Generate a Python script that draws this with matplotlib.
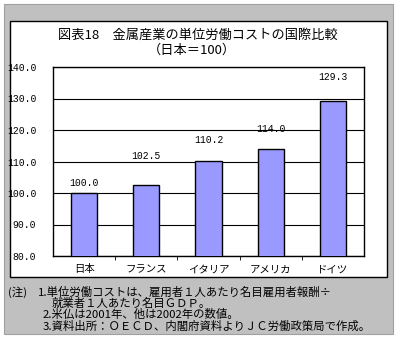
import matplotlib
matplotlib.use("Agg")
import matplotlib.pyplot as plt
from matplotlib.patches import Rectangle

plt.rcParams['font.family'] = ['Noto Sans CJK JP', 'DejaVu Sans']

# data
countries = ['日本', 'フランス', 'イタリア', 'アメリカ', 'ドイツ']
values = [100.0, 102.5, 110.2, 114.0, 129.3]
yticks = [80, 90, 100, 110, 120, 130, 140]

# label offsets above bar tops (in data units), as drawn in the original
label_offsets = [3.3, 9.1, 6.5, 6.2, 7.5]

fig = plt.figure(figsize=(4.0, 3.41), dpi=100)
W, H = 400, 341

def fx(x):
    return x / W

def fy(y):
    return 1 - y / H

# gray frame and white chart panel
fig.patches.append(Rectangle((fx(4), fy(334)), fx(389), 330 / H,
                             transform=fig.transFigure, facecolor='#c0c0c0',
                             edgecolor='#a0a0a0', lw=0.8, zorder=0))
fig.patches.append(Rectangle((fx(10), fy(277)), fx(377), 256 / H,
                             transform=fig.transFigure, facecolor='white',
                             edgecolor='black', lw=1.0, zorder=1))

ax = fig.add_axes([fx(53), fy(256), fx(311), 189 / H])
ax.set_zorder(5)
x = range(len(countries))
ax.bar(x, values, width=0.42, color='#9999ff', edgecolor='black', lw=1.0, zorder=3)
ax.set_ylim(80, 140)
ax.set_xlim(-0.5, len(countries) - 0.5)
ax.set_yticks(yticks)
ax.set_yticklabels([f'{v:.1f}' for v in yticks], fontsize=7, family='Liberation Mono')
ax.yaxis.grid(True, color='black', lw=0.8, zorder=0)
ax.set_axisbelow(True)
ax.tick_params(axis='y', length=0, pad=12)
ax.set_xticks(list(x))
ax.set_xticklabels(countries, fontsize=7.5)
ax.set_xticks([i + 0.5 for i in range(len(countries) - 1)], minor=True)
ax.tick_params(axis='x', which='major', length=0, pad=6)
ax.tick_params(axis='x', which='minor', length=3, direction='out', color='black')
for s in ax.spines.values():
    s.set_linewidth(1.0)

for i, v in enumerate(values):
    ax.text(i, v + label_offsets[i], f'{v:.1f}', ha='center', va='center',
            fontsize=7, family='Liberation Mono')

fig.text(fx(198), fy(35), '図表18\u3000金属産業の単位労働コストの国際比較',
         ha='center', va='center', fontsize=9.5, zorder=6)
fig.text(fx(192), fy(50), '（日本＝100）', ha='center', va='center', fontsize=9.5, zorder=6)

notes = [
    (8, 292, '(注)'),
    (38, 292, '1.単位労働コストは、雇用者１人あたり名目雇用者報酬÷'),
    (52, 303, '就業者１人あたり名目ＧＤＰ。'),
    (43, 314, '2.米仏は2001年、他は2002年の数値。'),
    (43, 326, '3.資料出所：ＯＥＣＤ、内閣府資料よりＪＣ労働政策局で作成。'),
]
for nx, ny, t in notes:
    fig.text(fx(nx), fy(ny), t, ha='left', va='center', fontsize=8.2, zorder=6)

fig.savefig('out.png', dpi=100)
